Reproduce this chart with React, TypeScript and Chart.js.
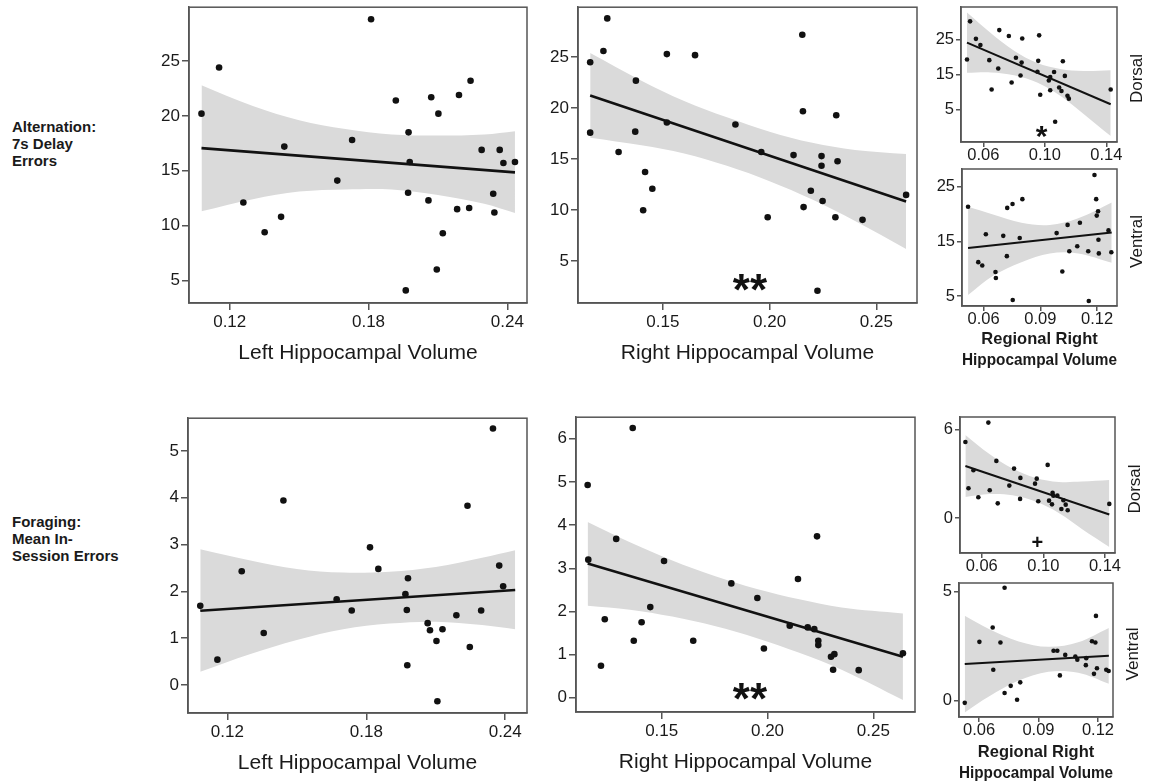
import React, { useEffect, useRef } from 'react';
import { Chart, registerables } from 'chart.js';

Chart.register(...registerables);

const FONT = '"Liberation Sans", Arial, Helvetica, sans-serif';
const TXT = '#1a1a1a';
const AX = '#555555';
const BAND = '#dadada';
const DOT = '#111111';

// ---------- Alternation (7s delay errors) vs left hippocampal volume ----------
const altLeftX = [0.1078, 0.1154, 0.1259, 0.1351, 0.1422, 0.1436, 0.1665, 0.1729, 0.1811, 0.1918, 0.1973, 0.1978, 0.1971, 0.1961, 0.2071, 0.2102, 0.2059, 0.2121, 0.2095, 0.2191, 0.2241, 0.2183, 0.2235, 0.2289, 0.2339, 0.2344, 0.2367, 0.2383, 0.2433];
const altLeftY = [20.2, 24.4, 12.1, 9.4, 10.8, 17.2, 14.1, 17.8, 28.8, 21.4, 18.5, 15.8, 13.0, 4.1, 21.7, 20.2, 12.3, 9.3, 6.0, 21.9, 23.2, 11.5, 11.6, 16.9, 12.9, 11.2, 16.9, 15.7, 15.8];
const altLeftFitX = [0.1078, 0.2433];
const altLeftFitY = [17.06, 14.85];
const altLeftBandX = [0.1078, 0.13, 0.15, 0.17, 0.19, 0.21, 0.23, 0.2433];
const altLeftBandHi = [22.8, 20.9, 19.6, 18.8, 18.3, 18.2, 18.3, 18.6];
const altLeftBandLo = [11.3, 12.4, 13.1, 13.3, 13.3, 12.8, 12.0, 11.15];

// ---------- Alternation vs right hippocampal volume ----------
const altRightX = [0.1160, 0.1160, 0.1222, 0.1240, 0.1293, 0.1374, 0.1371, 0.1417, 0.1451, 0.1408, 0.1519, 0.1519, 0.1651, 0.1840, 0.1961, 0.1991, 0.2112, 0.2153, 0.2156, 0.2159, 0.2193, 0.2224, 0.2243, 0.2243, 0.2248, 0.2308, 0.2312, 0.2318, 0.2435, 0.2639];
const altRightY = [24.5, 17.6, 25.6, 28.8, 15.7, 22.7, 17.7, 13.75, 12.1, 10.0, 25.3, 18.6, 25.2, 18.4, 15.7, 9.3, 15.4, 27.2, 19.7, 10.3, 11.9, 2.1, 15.3, 14.35, 10.9, 9.3, 19.3, 14.8, 9.05, 11.5];
const altRightFitX = [0.116, 0.2639];
const altRightFitY = [21.25, 10.85];
const altRightBandX = [0.116, 0.14, 0.16, 0.18, 0.20, 0.22, 0.24, 0.2639];
const altRightBandHi = [25.4, 22.7, 20.7, 19.1, 17.7, 16.6, 15.9, 15.5];
const altRightBandLo = [17.1, 16.36, 15.56, 14.35, 12.84, 11.04, 8.93, 6.2];

// ---------- Alternation vs regional right volume: dorsal ----------
const altDorsalX = [0.0514, 0.0494, 0.0552, 0.0581, 0.0639, 0.0654, 0.0697, 0.0704, 0.0766, 0.0784, 0.0812, 0.0842, 0.0849, 0.0853, 0.0957, 0.0963, 0.0952, 0.0970, 0.1026, 0.1035, 0.1035, 0.1060, 0.1067, 0.1093, 0.1108, 0.1117, 0.1130, 0.1147, 0.1156, 0.1428];
const altDorsalY = [30.2, 19.3, 25.2, 23.4, 19.1, 10.7, 16.7, 27.7, 26.0, 12.7, 19.8, 14.7, 18.4, 25.3, 18.9, 26.2, 15.8, 9.2, 13.3, 14.3, 10.5, 15.7, 1.5, 11.3, 10.3, 18.8, 14.6, 8.9, 8.1, 10.7];
const altDorsalFitX = [0.0494, 0.1428];
const altDorsalFitY = [24.1, 6.5];
const altDorsalBandX = [0.0494, 0.065, 0.08, 0.095, 0.11, 0.125, 0.1428];
const altDorsalBandHi = [32.7, 26.8, 21.8, 18.3, 16.6, 16.0, 16.2];
const altDorsalBandLo = [15.5, 15.6, 14.8, 12.7, 8.9, 3.8, -2.6];

// ---------- Alternation vs regional right volume: ventral ----------
const altVentralX = [0.0518, 0.0572, 0.0593, 0.0612, 0.0663, 0.0665, 0.0704, 0.0723, 0.0725, 0.0753, 0.0754, 0.0791, 0.0805, 0.0986, 0.1016, 0.1044, 0.1053, 0.1095, 0.1109, 0.1153, 0.1156, 0.1186, 0.1195, 0.1198, 0.1205, 0.1207, 0.1209, 0.1260, 0.1275];
const altVentralY = [21.3, 11.2, 10.6, 16.3, 9.4, 8.3, 16.0, 12.3, 21.1, 21.8, 4.3, 15.6, 22.7, 16.5, 9.5, 18.0, 13.2, 14.1, 18.4, 13.2, 4.1, 27.1, 22.7, 19.7, 20.5, 15.3, 12.8, 17.0, 13.0];
const altVentralFitX = [0.0518, 0.1277];
const altVentralFitY = [13.8, 16.6];
const altVentralBandX = [0.0518, 0.065, 0.08, 0.095, 0.11, 0.1277];
const altVentralBandHi = [21.3, 19.9, 18.4, 18.0, 19.2, 22.1];
const altVentralBandLo = [5.2, 8.7, 11.2, 12.8, 12.8, 11.1];

// ---------- Foraging (mean in-session errors) vs left volume ----------
const forLeftX = [0.1083, 0.1157, 0.1262, 0.1357, 0.1442, 0.1672, 0.1737, 0.1816, 0.1852, 0.1980, 0.1969, 0.1975, 0.1977, 0.2065, 0.2075, 0.2129, 0.2103, 0.2107, 0.2189, 0.2237, 0.2247, 0.2296, 0.2347, 0.2374, 0.2391];
const forLeftY = [1.69, 0.54, 2.43, 1.11, 3.94, 1.83, 1.59, 2.94, 2.48, 2.28, 1.94, 1.60, 0.42, 1.32, 1.17, 1.19, 0.94, -0.35, 1.49, 3.83, 0.81, 1.59, 5.48, 2.55, 2.11];
const forLeftFitX = [0.1083, 0.2443];
const forLeftFitY = [1.585, 2.03];
const forLeftBandX = [0.1083, 0.13, 0.15, 0.17, 0.19, 0.21, 0.23, 0.2443];
const forLeftBandHi = [2.90, 2.66, 2.48, 2.40, 2.42, 2.52, 2.72, 2.88];
const forLeftBandLo = [0.28, 0.66, 0.96, 1.19, 1.31, 1.35, 1.28, 1.19];

// ---------- Foraging vs right volume ----------
const forRightX = [0.1150, 0.1153, 0.1213, 0.1231, 0.1285, 0.1363, 0.1368, 0.1405, 0.1446, 0.1511, 0.1649, 0.1829, 0.1952, 0.1983, 0.2105, 0.2144, 0.2190, 0.2221, 0.2234, 0.2240, 0.2240, 0.2300, 0.2316, 0.2310, 0.2431, 0.2640];
const forRightY = [4.93, 3.20, 0.74, 1.82, 3.68, 6.25, 1.32, 1.75, 2.10, 3.17, 1.32, 2.65, 2.31, 1.14, 1.67, 2.75, 1.63, 1.59, 3.74, 1.32, 1.22, 0.95, 1.01, 0.65, 0.64, 1.03];
const forRightFitX = [0.1150, 0.2640];
const forRightFitY = [3.11, 0.95];
const forRightBandX = [0.115, 0.135, 0.155, 0.175, 0.195, 0.215, 0.235, 0.264];
const forRightBandHi = [4.07, 3.60, 3.18, 2.82, 2.52, 2.28, 2.09, 1.95];
const forRightBandLo = [2.13, 2.04, 1.88, 1.66, 1.38, 1.04, 0.65, -0.05];

// ---------- Foraging vs regional right: dorsal ----------
const forDorsalX = [0.0494, 0.0514, 0.0546, 0.0578, 0.0643, 0.0652, 0.0695, 0.0704, 0.0779, 0.0810, 0.0849, 0.0851, 0.0946, 0.0957, 0.0967, 0.1028, 0.1037, 0.1056, 0.1060, 0.1065, 0.1091, 0.1117, 0.1130, 0.1145, 0.1158, 0.1428];
const forDorsalY = [5.14, 2.01, 3.23, 1.40, 6.45, 1.87, 3.86, 0.99, 2.19, 3.34, 1.29, 2.71, 2.32, 2.66, 1.13, 3.59, 1.17, 0.92, 1.71, 1.51, 1.51, 0.61, 1.20, 0.90, 0.52, 0.95];
const forDorsalFitX = [0.0494, 0.1428];
const forDorsalFitY = [3.52, 0.23];
const forDorsalBandX = [0.0494, 0.065, 0.08, 0.095, 0.11, 0.125, 0.1428];
const forDorsalBandHi = [5.62, 4.32, 3.34, 2.71, 2.44, 2.46, 2.56];
const forDorsalBandLo = [1.42, 1.62, 1.54, 1.11, 0.34, -0.74, -1.96];

// ---------- Foraging vs regional right: ventral ----------
const forVentralX = [0.0528, 0.0602, 0.0669, 0.0672, 0.0708, 0.0729, 0.0729, 0.0760, 0.0792, 0.0808, 0.0976, 0.0995, 0.1008, 0.1035, 0.1086, 0.1096, 0.1141, 0.1139, 0.1170, 0.1180, 0.1187, 0.1190, 0.1195, 0.1242, 0.1254];
const forVentralY = [-0.11, 2.69, 3.35, 1.41, 2.66, 5.17, 0.34, 0.67, 0.03, 0.83, 2.28, 2.28, 1.15, 2.09, 2.02, 1.87, 1.94, 1.62, 2.72, 1.22, 2.66, 3.88, 1.48, 1.41, 1.35];
const forVentralFitX = [0.0528, 0.1255];
const forVentralFitY = [1.67, 2.05];
const forVentralBandX = [0.0528, 0.065, 0.08, 0.095, 0.11, 0.1255];
const forVentralBandHi = [3.89, 3.28, 2.71, 2.46, 2.67, 3.33];
const forVentralBandLo = [-0.55, 0.18, 0.91, 1.32, 1.27, 0.77];

// ---------- tick labels ----------
const leftVolTicks = [0.12, 0.18, 0.24];
const rightVolTicks = [0.15, 0.20, 0.25];
const dorsalVolTicks = [0.06, 0.10, 0.14];
const ventralVolTicks = [0.06, 0.09, 0.12];
const altBigYTicks = [5, 10, 15, 20, 25];
const altSmallYTicks = [5, 15, 25];
const forLeftYTicks = [0, 1, 2, 3, 4, 5];
const forRightYTicks = [0, 1, 2, 3, 4, 5, 6];
const forDorsalYTicks = [0, 6];
const forVentralYTicks = [0, 5];

// significance marks
const altRightMark = { text: '**', x: 0.1908, y: 2.87 };
const altDorsalMark = { text: '*', x: 0.0979, y: -1.4 };
const forRightMark = { text: '**', x: 0.1917, y: 0.14 };
const forDorsalMark = { text: '+', x: 0.0961, y: -1.62 };

const regionalTitle = ['Regional Right', 'Hippocampal Volume'];

type Mark = { text: string; x: number; y: number } | null;
type Panel = {
  key: string;
  L: number; T: number; R: number; B: number;
  xMin: number; xMax: number; yMin: number; yMax: number;
  xTicks: number[]; yTicks: number[];
  title: string | string[];
  small: boolean;
  xH: number;
  px: number[]; py: number[];
  fx: number[]; fy: number[];
  bx: number[]; bHi: number[]; bLo: number[];
  mark: Mark; markFont?: string;
  side?: string;
};

const panels: Panel[] = [
  { key: 'A', L: 189, T: 7, R: 527, B: 303, xMin: 0.1024, xMax: 0.2485, yMin: 2.95, yMax: 29.9,
    xTicks: leftVolTicks, yTicks: altBigYTicks, title: 'Left Hippocampal Volume', small: false, xH: 63,
    px: altLeftX, py: altLeftY, fx: altLeftFitX, fy: altLeftFitY, bx: altLeftBandX, bHi: altLeftBandHi, bLo: altLeftBandLo, mark: null },
  { key: 'B', L: 578, T: 7, R: 917, B: 303, xMin: 0.1103, xMax: 0.2690, yMin: 0.9, yMax: 29.9,
    xTicks: rightVolTicks, yTicks: altBigYTicks, title: 'Right Hippocampal Volume', small: false, xH: 63,
    px: altRightX, py: altRightY, fx: altRightFitX, fy: altRightFitY, bx: altRightBandX, bHi: altRightBandHi, bLo: altRightBandLo,
    mark: altRightMark, markFont: 'bold 44px ' + FONT },
  { key: 'C', L: 961, T: 7, R: 1117, B: 142, xMin: 0.0455, xMax: 0.1469, yMin: -4.3, yMax: 34.3,
    xTicks: dorsalVolTicks, yTicks: altSmallYTicks, title: '', small: true, xH: 30,
    px: altDorsalX, py: altDorsalY, fx: altDorsalFitX, fy: altDorsalFitY, bx: altDorsalBandX, bHi: altDorsalBandHi, bLo: altDorsalBandLo,
    mark: altDorsalMark, markFont: 'bold 30px ' + FONT, side: 'Dorsal' },
  { key: 'D', L: 962, T: 169, R: 1117, B: 306, xMin: 0.0486, xMax: 0.1305, yMin: 3.2, yMax: 28.2,
    xTicks: ventralVolTicks, yTicks: altSmallYTicks, title: regionalTitle, small: true, xH: 65,
    px: altVentralX, py: altVentralY, fx: altVentralFitX, fy: altVentralFitY, bx: altVentralBandX, bHi: altVentralBandHi, bLo: altVentralBandLo,
    mark: null, side: 'Ventral' },
  { key: 'E', L: 188, T: 418, R: 527, B: 713, xMin: 0.1030, xMax: 0.2494, yMin: -0.60, yMax: 5.70,
    xTicks: leftVolTicks, yTicks: forLeftYTicks, title: 'Left Hippocampal Volume', small: false, xH: 63,
    px: forLeftX, py: forLeftY, fx: forLeftFitX, fy: forLeftFitY, bx: forLeftBandX, bHi: forLeftBandHi, bLo: forLeftBandLo, mark: null },
  { key: 'F', L: 576, T: 417, R: 915, B: 712, xMin: 0.1095, xMax: 0.2697, yMin: -0.33, yMax: 6.50,
    xTicks: rightVolTicks, yTicks: forRightYTicks, title: 'Right Hippocampal Volume', small: false, xH: 63,
    px: forRightX, py: forRightY, fx: forRightFitX, fy: forRightFitY, bx: forRightBandX, bHi: forRightBandHi, bLo: forRightBandLo,
    mark: forRightMark, markFont: 'bold 44px ' + FONT },
  { key: 'G', L: 960, T: 417, R: 1115, B: 553, xMin: 0.0459, xMax: 0.1465, yMin: -2.37, yMax: 6.83,
    xTicks: dorsalVolTicks, yTicks: forDorsalYTicks, title: '', small: true, xH: 30,
    px: forDorsalX, py: forDorsalY, fx: forDorsalFitX, fy: forDorsalFitY, bx: forDorsalBandX, bHi: forDorsalBandHi, bLo: forDorsalBandLo,
    mark: forDorsalMark, markFont: 'bold 20px ' + FONT, side: 'Dorsal' },
  { key: 'H', L: 959, T: 583, R: 1113, B: 717, xMin: 0.0499, xMax: 0.1276, yMin: -0.76, yMax: 5.39,
    xTicks: ventralVolTicks, yTicks: forVentralYTicks, title: regionalTitle, small: true, xH: 67,
    px: forVentralX, py: forVentralY, fx: forVentralFitX, fy: forVentralFitY, bx: forVentralBandX, bHi: forVentralBandHi, bLo: forVentralBandLo,
    mark: null, side: 'Ventral' },
];

const Y_W = 50;
const PAD_T = 12;

const framePlugin = {
  id: 'frame',
  beforeDatasetsDraw(chart: any) {
    const { ctx, chartArea: a } = chart;
    ctx.save();
    ctx.strokeStyle = AX;
    ctx.lineWidth = 1.5;
    ctx.strokeRect(a.left, a.top, a.right - a.left, a.bottom - a.top);
    ctx.restore();
  },
  afterDatasetsDraw(chart: any, _args: any, opts: any) {
    const { ctx, chartArea: a } = chart;
    const p: Panel = opts.panel;
    ctx.save();
    if (p.side) {
      ctx.translate(a.right + 20, (a.top + a.bottom) / 2 + 4);
      ctx.rotate(-Math.PI / 2);
      ctx.font = '17px ' + FONT;
      ctx.fillStyle = TXT;
      ctx.textAlign = 'center';
      ctx.textBaseline = 'middle';
      ctx.fillText(p.side, 0, 0);
      ctx.setTransform(1, 0, 0, 1, 0, 0);
    }
    if (p.mark) {
      const xs = chart.scales.x;
      const ys = chart.scales.y;
      const cx = xs.getPixelForValue(p.mark.x);
      const cy = ys.getPixelForValue(p.mark.y);
      ctx.font = p.markFont || 'bold 30px ' + FONT;
      ctx.fillStyle = '#111';
      ctx.textAlign = 'center';
      ctx.textBaseline = 'alphabetic';
      const m = ctx.measureText(p.mark.text);
      const dy = (m.actualBoundingBoxAscent - m.actualBoundingBoxDescent) / 2;
      ctx.fillText(p.mark.text, cx, cy + dy);
    }
    ctx.restore();
  },
};

function geometry(p: Panel) {
  const padR = p.small ? 1154 - p.R : 12;
  const left = p.L - Y_W;
  const top = p.T - PAD_T;
  const width = p.R - p.L + Y_W + padR;
  const height = p.B - p.T + PAD_T + p.xH;
  return { left, top, width, height, padR };
}

function makeConfig(p: Panel): any {
  const g = geometry(p);
  const small = p.small;
  const tickFont = { family: FONT, size: small ? 16.5 : 17, lineHeight: small ? 1 : 1.2 };
  const tl = small ? 5 : 7;
  const pts = p.px.map((x, i) => ({ x, y: p.py[i] }));
  const fit = p.fx.map((x, i) => ({ x, y: p.fy[i] }));
  const hi = p.bx.map((x, i) => ({ x, y: p.bHi[i] }));
  const lo = p.bx.map((x, i) => ({ x, y: p.bLo[i] }));
  const xDec = 2;
  return {
    type: 'scatter',
    data: {
      datasets: [
        { type: 'scatter', data: pts, pointRadius: small ? 2.3 : 3.3, pointHoverRadius: 0,
          backgroundColor: DOT, borderColor: DOT, borderWidth: 0 },
        { type: 'line', data: fit, showLine: true, borderColor: DOT, borderWidth: small ? 2 : 2.6,
          pointRadius: 0, fill: false, tension: 0 },
        { type: 'line', data: hi, showLine: true, borderColor: 'rgba(0,0,0,0)', borderWidth: 0,
          pointRadius: 0, fill: '+1', backgroundColor: BAND, tension: 0.35 },
        { type: 'line', data: lo, showLine: true, borderColor: 'rgba(0,0,0,0)', borderWidth: 0,
          pointRadius: 0, fill: false, tension: 0.35 },
      ],
    },
    options: {
      responsive: false,
      animation: false,
      devicePixelRatio: 1,
      events: [],
      layout: { padding: { left: 0, top: PAD_T, right: g.padR, bottom: 0 } },
      plugins: {
        legend: { display: false },
        tooltip: { enabled: false },
        frame: { panel: p },
      },
      scales: {
        x: {
          type: 'linear', min: p.xMin, max: p.xMax,
          afterBuildTicks: (s: any) => { s.ticks = p.xTicks.map((v) => ({ value: v })); },
          afterFit: (s: any) => { s.height = p.xH; },
          ticks: { autoSkip: false, maxRotation: 0, minRotation: 0, font: tickFont, color: TXT,
            padding: small ? 0 : 2, callback: (v: any) => Number(v).toFixed(xDec) },
          grid: { display: true, drawOnChartArea: false, drawTicks: true, tickLength: tl, color: AX, lineWidth: 1.5 },
          border: { display: true, color: AX, width: 1.5 },
          title: {
            display: !!(Array.isArray(p.title) ? p.title.length : p.title),
            text: p.title,
            color: TXT,
            padding: { top: 0, bottom: 0 },
            font: small ? { family: FONT, size: 16.5, weight: 'bold', lineHeight: 1.27 } : { family: FONT, size: 21, lineHeight: 1.2 },
          },
        },
        y: {
          type: 'linear', min: p.yMin, max: p.yMax,
          afterBuildTicks: (s: any) => { s.ticks = p.yTicks.map((v) => ({ value: v })); },
          afterFit: (s: any) => { s.width = Y_W; },
          ticks: { autoSkip: false, font: tickFont, color: TXT, padding: 2, callback: (v: any) => String(v) },
          grid: { display: true, drawOnChartArea: false, drawTicks: true, tickLength: tl, color: AX, lineWidth: 1.5 },
          border: { display: true, color: AX, width: 1.5 },
        },
      },
    },
    plugins: [framePlugin],
  };
}

function PanelChart({ p }: { p: Panel }) {
  const ref = useRef<HTMLCanvasElement | null>(null);
  const g = geometry(p);
  useEffect(() => {
    if (!ref.current) return;
    const chart = new Chart(ref.current, makeConfig(p));
    return () => chart.destroy();
  }, []);
  return (
    <canvas
      ref={ref}
      width={g.width}
      height={g.height}
      style={{ position: 'absolute', left: g.left, top: g.top, width: g.width, height: g.height }}
    />
  );
}

const rowLabelStyle: React.CSSProperties = {
  position: 'absolute',
  left: 12,
  font: 'bold 15px ' + FONT,
  lineHeight: '17px',
  color: TXT,
  whiteSpace: 'nowrap',
};

export default function App() {
  return (
    <div style={{ position: 'absolute', left: 0, top: 0, width: 1154, height: 784, overflow: 'hidden', background: '#fff' }}>
      <div style={{ ...rowLabelStyle, top: 118 }}>
        Alternation:<br />7s Delay<br />Errors
      </div>
      <div style={{ ...rowLabelStyle, top: 513 }}>
        Foraging:<br />Mean In-<br />Session Errors
      </div>
      {panels.map((p) => (
        <PanelChart key={p.key} p={p} />
      ))}
    </div>
  );
}
